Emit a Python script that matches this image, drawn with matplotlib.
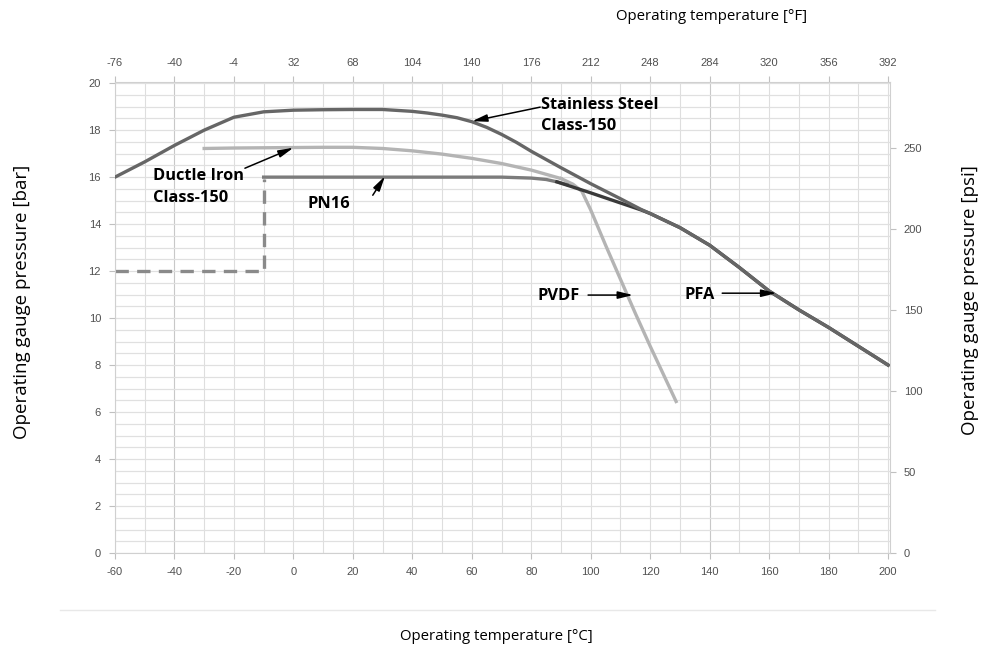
import numpy as np
import matplotlib
matplotlib.use("Agg")
import matplotlib.pyplot as plt
from matplotlib.lines import Line2D

# temperature [°C] / pressure [bar]
ss_t = [-60, -50, -40, -30, -20, -10, 0, 10, 20, 30, 40, 45, 50, 55, 60, 65, 70, 75, 80, 90,
        100, 110, 117, 120, 130, 140, 150, 160, 170, 180, 190, 200]
ss_p = [16.0, 16.65, 17.35, 18.0, 18.55, 18.78, 18.85, 18.87, 18.88, 18.88, 18.8, 18.73,
        18.64, 18.53, 18.36, 18.12, 17.82, 17.48, 17.1, 16.4, 15.72, 15.08, 14.62, 14.45,
        13.85, 13.1, 12.15, 11.15, 10.35, 9.6, 8.8, 8.0]

di_t = [-30, -20, -10, 0, 10, 20, 30, 40, 50, 60, 70, 80, 90]
di_p = [17.22, 17.24, 17.25, 17.26, 17.27, 17.27, 17.22, 17.12, 16.98, 16.8, 16.58, 16.3, 15.94]

pvdf_t = [90, 94, 97, 100, 105, 110, 115, 120, 125, 128.7]
pvdf_p = [15.94, 15.7, 15.4, 14.6, 13.1, 11.65, 10.2, 8.8, 7.45, 6.45]

pn16_dash_t = [-60, -10, -10]
pn16_dash_p = [12, 12, 15.9]
pn16_t = [-10, 0, 20, 40, 60, 70, 80, 85, 88.6, 92]
pn16_p = [16.0, 16.0, 16.0, 16.0, 16.0, 16.0, 15.96, 15.9, 15.8, 15.68]

pfa_t = [88.6, 100, 110, 117, 120, 130, 140, 150, 160, 170, 180, 190, 200]
pfa_p = [15.8, 15.33, 14.9, 14.6, 14.45, 13.85, 13.1, 12.15, 11.15, 10.35, 9.6, 8.8, 8.0]

c_ticks = list(range(-60, 201, 20))
f_ticks = [-76, -40, -4, 32, 68, 104, 140, 176, 212, 248, 284, 320, 356, 392]
bar_ticks = list(range(0, 21, 2))
psi_ticks = [0, 50, 100, 150, 200, 250]

PSI = 14.5038

fig = plt.figure(figsize=(9.91, 6.56), dpi=100)
ax = fig.add_axes([0.116, 0.157, 0.782, 0.718])
ax.set_xlim(-60, 200.6)
ax.set_ylim(0, 20.05)

# grid
for t in np.arange(-60, 201, 10):
    col = '#c8c8c8' if t in (-40, 140) else '#dedede'
    ax.axvline(t, color=col, lw=0.8, zorder=0)
for p in np.arange(0, 20.01, 0.5):
    ax.axhline(p, color='#e0e0e0', lw=0.9, zorder=0)
for s in ax.spines.values():
    s.set_color('#d0d0d0')
    s.set_linewidth(0.8)

lw = 2.4
ax.plot(pn16_dash_t, pn16_dash_p, color='#8a8a8a', lw=lw, ls=(0, (4, 2.5)), zorder=2)
ax.plot(di_t, di_p, color='#b4b4b4', lw=lw, zorder=2)
ax.plot(pvdf_t, pvdf_p, color='#b4b4b4', lw=lw, zorder=2)
ax.plot(pn16_t, pn16_p, color='#7c7c7c', lw=lw, zorder=3)
ax.plot(pfa_t, pfa_p, color='#3a3a3a', lw=lw, zorder=3)
ax.plot(ss_t, ss_p, color='#666666', lw=lw, zorder=4)

tick_font = dict(family='Liberation Sans', size=8, color='#505050')
ax.set_xticks(c_ticks)
ax.set_xticklabels([str(t) for t in c_ticks], **tick_font)
ax.set_yticks(bar_ticks)
ax.set_yticklabels([str(t) for t in bar_ticks], **tick_font)
ax.tick_params(length=4, color='#c0c0c0', pad=6)

top = ax.secondary_xaxis('top', functions=(lambda c: c * 9 / 5 + 32, lambda f: (f - 32) * 5 / 9))
top.set_xticks(f_ticks)
top.set_xticklabels([str(t) for t in f_ticks], **tick_font)
top.tick_params(length=4, color='#c0c0c0', pad=6)
top.spines['top'].set_visible(False)

right = ax.secondary_yaxis('right', functions=(lambda b: b * PSI, lambda p: p / PSI))
right.set_yticks(psi_ticks)
right.set_yticklabels([str(t) for t in psi_ticks], **tick_font)
right.tick_params(length=4, color='#c0c0c0', pad=6)
right.spines['right'].set_visible(False)

# annotations
lab = dict(family='Open Sans', weight='bold', size=11.8, color='black')
arr = dict(arrowstyle='-|>,head_length=0.9,head_width=0.22', color='black', lw=1.1,
           shrinkA=0, shrinkB=0)
ax.annotate('', xy=(60.1, 18.38), xytext=(83.0, 18.98), arrowprops=arr, zorder=5)
ax.text(83.3, 18.62, 'Stainless Steel\nClass-150', ha='left', va='center', linespacing=1.45, **lab)
ax.annotate('', xy=(0, 17.25), xytext=(-16.3, 16.38), arrowprops=arr, zorder=5)
ax.text(-47.2, 15.58, 'Ductle Iron\nClass-150', ha='left', va='center', linespacing=1.45, **lab)
ax.annotate('', xy=(30.8, 16.04), xytext=(26.7, 15.23), arrowprops=arr, zorder=5)
ax.text(4.9, 14.85, 'PN16', ha='left', va='center', **lab)
ax.annotate('', xy=(114.2, 10.98), xytext=(99.1, 10.98), arrowprops=arr, zorder=5)
ax.text(96.4, 10.94, 'PVDF', ha='right', va='center', **lab)
ax.annotate('', xy=(162.4, 11.06), xytext=(144.2, 11.06), arrowprops=arr, zorder=5)
ax.text(141.8, 11.0, 'PFA', ha='right', va='center', **lab)

vert_font = dict(family='Open Sans', size=13.5, color='black')
horiz_font = dict(family='Open Sans', size=10.8, color='black')
fig.text(22 / 991, 1 - 302 / 656, 'Operating gauge pressure [bar]', rotation=90,
         ha='center', va='center', **vert_font)
fig.text(970 / 991, 1 - 300 / 656, 'Operating gauge pressure [psi]', rotation=90,
         ha='center', va='center', **vert_font)
fig.text(712 / 991, 1 - 16 / 656, 'Operating temperature [°F]', ha='center', va='center', **horiz_font)
fig.text(496 / 991, 1 - 636 / 656, 'Operating temperature [°C]', ha='center', va='center', **horiz_font)
fig.add_artist(Line2D([60 / 991, 935 / 991], [1 - 610 / 656, 1 - 610 / 656],
                      color='#e8e8e8', lw=1))

fig.savefig('out.png', dpi=100)
